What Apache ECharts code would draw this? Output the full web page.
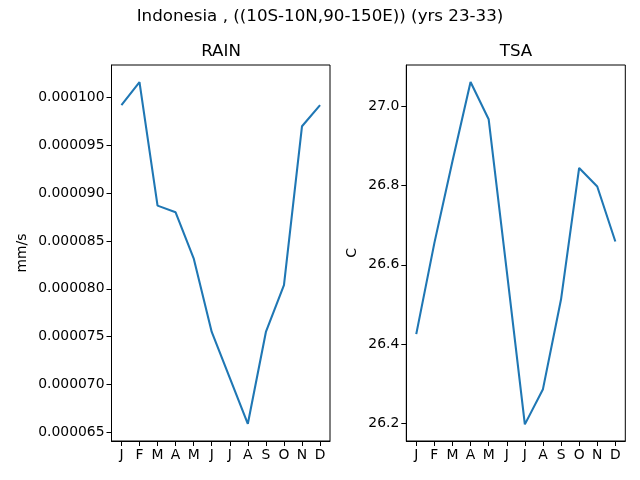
<!DOCTYPE html>
<html>
<head>
<meta charset="utf-8">
<script src="https://cdn.jsdelivr.net/npm/echarts@6/dist/echarts.min.js"></script>
<style>html,body{margin:0;padding:0;background:#fff}#c{width:640px;height:480px}</style>
</head>
<body>
<div id="c"></div>
<script>
var months = ['J','F','M','A','M','J','J','A','S','O','N','D'];
var rainValues = [0.0000992, 0.0001016, 0.0000887, 0.0000880, 0.0000832, 0.0000755, 0.0000707, 0.0000659, 0.0000755, 0.0000804, 0.0000970, 0.0000992];
var tsaValues = [26.425, 26.655, 26.862, 27.062, 26.968, 26.585, 26.197, 26.286, 26.513, 26.845, 26.798, 26.659];
var rainTicks = [0.000065, 0.000070, 0.000075, 0.000080, 0.000085, 0.000090, 0.000095, 0.000100];
var tsaTicks = [26.2, 26.4, 26.6, 26.8, 27.0];
var monthIdx = months.map(function(_, i){ return i; });

var FONT = 'DejaVu Sans';
function pairs(vals){ return vals.map(function(v, i){ return [i, v]; }); }
function xAxis(gi){
  return {
    type: 'value', gridIndex: gi, min: -0.55, max: 11.55,
    axisLine: {show: true, onZero: false, lineStyle: {color: '#000', width: 1}},
    axisTick: {show: true, customValues: monthIdx, length: 5, lineStyle: {color: '#000', width: 1}},
    axisLabel: {customValues: monthIdx, color: '#000', fontFamily: FONT, fontSize: 13.9, margin: 7,
      formatter: function(v){ return months[Math.round(v)]; }},
    splitLine: {show: false}
  };
}
function yAxis(gi, min, max, ticks, dec, name, gap){
  return {
    type: 'value', gridIndex: gi, min: min, max: max,
    name: name, nameLocation: 'middle', nameGap: gap, nameRotate: 90,
    nameTextStyle: {color: '#000', fontFamily: FONT, fontSize: 13.9},
    axisLine: {show: true, onZero: false, lineStyle: {color: '#000', width: 1}},
    axisTick: {show: true, customValues: ticks, length: 5, lineStyle: {color: '#000', width: 1}},
    axisLabel: {customValues: ticks, color: '#000', fontFamily: FONT, fontSize: 13.9, margin: 7,
      formatter: function(v){ return v.toFixed(dec); }},
    splitLine: {show: false}
  };
}
var chart = echarts.init(document.getElementById('c'), null, {renderer: 'canvas'});
chart.setOption({
  animation: false,
  backgroundColor: '#fff',
  title: [
    {text: 'Indonesia , ((10S-10N,90-150E)) (yrs 23-33)', left: 'center', top: 7, padding: 0,
     textStyle: {fontFamily: FONT, fontSize: 16.7, fontWeight: 'normal', color: '#000', lineHeight: 20}},
    {text: 'RAIN', left: 221, textAlign: 'center', top: 42, padding: 0,
     textStyle: {fontFamily: FONT, fontSize: 16.7, fontWeight: 'normal', color: '#000', lineHeight: 20}},
    {text: 'TSA', left: 516, textAlign: 'center', top: 42, padding: 0,
     textStyle: {fontFamily: FONT, fontSize: 16.7, fontWeight: 'normal', color: '#000', lineHeight: 20}}
  ],
  grid: [
    {left: 111.5, top: 65, width: 218.5, height: 376, show: true, borderColor: '#000', borderWidth: 1, backgroundColor: 'transparent'},
    {left: 406.3, top: 65, width: 219, height: 376, show: true, borderColor: '#000', borderWidth: 1, backgroundColor: 'transparent'}
  ],
  xAxis: [xAxis(0), xAxis(1)],
  yAxis: [
    yAxis(0, 0.0000641, 0.0001034, rainTicks, 6, 'mm/s', 82),
    yAxis(1, 26.155, 27.105, tsaTicks, 1, 'C', 47)
  ],
  series: [
    {type: 'line', xAxisIndex: 0, yAxisIndex: 0, data: pairs(rainValues), showSymbol: false, symbol: 'none',
     lineStyle: {color: '#1f77b4', width: 2.08}, itemStyle: {color: '#1f77b4'}},
    {type: 'line', xAxisIndex: 1, yAxisIndex: 1, data: pairs(tsaValues), showSymbol: false, symbol: 'none',
     lineStyle: {color: '#1f77b4', width: 2.08}, itemStyle: {color: '#1f77b4'}}
  ]
});
</script>
</body>
</html>
